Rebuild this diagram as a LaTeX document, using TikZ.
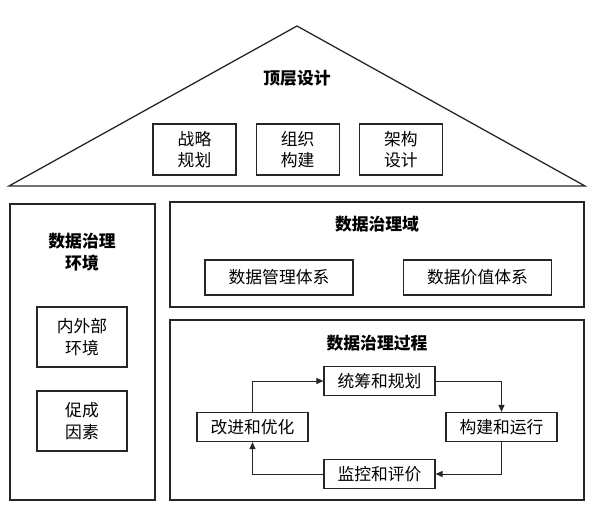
\documentclass[tikz,border=0pt]{standalone}
\usepackage{fontspec}
\setmainfont{Noto Sans CJK SC}
\usetikzlibrary{arrows.meta,positioning}

\begin{document}
\begin{tikzpicture}[
  x=1pt, y=-1pt,
  font=\fontsize{16.8}{21.5}\selectfont,
  frame/.style={draw=black!85, line width=1.3pt, inner sep=0pt},
  box/.style={draw=black!85, line width=1.2pt, fill=white, align=center, inner sep=0pt},
  item/.style={box, minimum width=83, minimum height=51},
  side box/.style={box, minimum width=90, minimum height=60},
  step box/.style={box, minimum width=111, minimum height=29},
  head/.style={font=\fontsize{16.8}{21.5}\selectfont\bfseries, align=center},
  arrow/.style={-{Triangle[length=7pt,width=6pt]}, line width=1pt, draw=black!85}
]
\useasboundingbox (0,0) rectangle (595,523);

% roof
\draw[line width=1.3pt, draw=black!85] (9,186) -- (297,26) -- (585,186) -- cycle;
\node[head] (top) at (297,78) {顶层设计};
\node[item] (strategy) at (194.5,149.5) {战略\\规划};
\node[item, right=19 of strategy] (org) {组织\\构建};
\node[item, right=19 of org] (arch) {架构\\设计};

% left column
\node[frame, minimum width=145, minimum height=296] (env) at (82.5,352) {};
\node[head] (envtitle) at (82,252) {数据治理\\环境};
\node[side box] (inout) at (82,337) {内外部\\环境};
\node[side box] (enable) at (82,421) {促成\\因素};

% governance domain
\node[frame, minimum width=414, minimum height=105] (domain) at (377,254.5) {};
\node[head] (domtitle) at (377,224) {数据治理域};
\node[box, minimum width=148, minimum height=35] (mgmt) at (279,277.5) {数据管理体系};
\node[box, minimum width=148, minimum height=35] (value) at (477.5,277.5) {数据价值体系};

% governance process
\node[frame, minimum width=414, minimum height=180] (proc) at (377,410) {};
\node[head] (proctitle) at (377,343) {数据治理过程};
\node[step box] (coord) at (379.5,381) {统筹和规划};
\node[step box] (build) at (501.5,427) {构建和运行};
\node[step box] (monitor) at (379.5,474) {监控和评价};
\node[step box] (improve) at (252.5,427) {改进和优化};

\draw[arrow] (improve.north) |- (coord.west);
\draw[arrow] (coord.east) -| (build.north);
\draw[arrow] (build.south) |- (monitor.east);
\draw[arrow] (monitor.west) -| (improve.south);

\end{tikzpicture}
\end{document}
